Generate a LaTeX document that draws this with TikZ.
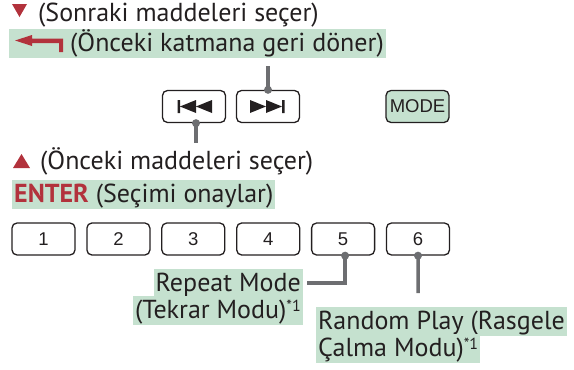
\documentclass[tikz,border=0pt]{standalone}
\usepackage{fontspec}
\setmainfont{PT Sans}
\newfontfamily\keyfont{Liberation Sans}
\definecolor{ink}{RGB}{35,31,32}
\definecolor{hlgreen}{RGB}{197,225,207}
\definecolor{keyred}{RGB}{178,50,60}
\definecolor{leadgray}{RGB}{109,110,113}
\newcommand{\fnmark}{\raisebox{7pt}{\fontsize{16}{16}\selectfont *1}}
\begin{document}
\begin{tikzpicture}[x=1pt, y=-1pt,
  every node/.style={font=\fontsize{26}{27}\selectfont, text=ink, inner sep=0pt},
  hl/.style={fill=hlgreen, text height=21pt, text depth=5pt, inner xsep=2pt, inner ysep=1.5pt},
  key/.style={draw=ink, line width=1.3pt, rounded corners=5pt, minimum width=63pt, minimum height=32pt, font=\keyfont\fontsize{18.5}{18.5}\selectfont},
  lead/.style={draw=leadgray, line width=3.5pt},
  pin/.style={circle, fill=leadgray, inner sep=0pt, minimum size=8pt}]
  \useasboundingbox (0,0) rectangle (574,370);
  % menu lines
  \fill[keyred] (12,4) -- (27,4) -- (19.5,17) -- cycle;
  \node (down) [anchor=base west] at (38,21) {(Sonraki maddeleri seçer)};
  \node (back) [hl, anchor=base west] at (9,51.7) {\hspace*{59pt}(Önceki katmana geri döner)};
  \fill[keyred] (15,40.5) -- (32,35) -- (32,38.5) -- (63,38.5) -- (63,52) -- (59,52) -- (59,43) -- (32,43) -- (32,46) -- cycle;
  \fill[keyred] (13,168) -- (30,168) -- (21.5,154) -- cycle;
  \node (up) [anchor=base west] at (40,169) {(Önceki maddeleri seçer)};
  \node (enter) [hl, anchor=base west] at (12,202) {\textcolor{keyred}{\bfseries ENTER} (Seçimi onaylar)};
  % keys
  \node (prev) [key] at (194,106.5) {};
  \node (next) [key] at (268,106.5) {};
  \node (mode) [key, fill=hlgreen] at (417.5,106.5) {MODE};
  \foreach \d in {-1,1}{
    \ifnum\d<0 \def\k{prev}\else\def\k{next}\fi
    \fill[ink, shift={(\k.center)}, xscale=\d] (-18,-6.5) -- (-2,0) -- (-18,6.5) -- cycle
      (-2,-6.5) -- (14,0) -- (-2,6.5) -- cycle (14,-6.5) rectangle (16.5,6.5);
  }
  \foreach \i in {1,...,6}
    \node (b\i) [key] at (43.5+74.9*\i-74.9,239) {\i};
  % leads
  \coordinate (n0) at (268,66);
  \coordinate (p0) at (196,143);
  \draw[lead] (next.north) -- (n0);
  \node[pin] at (next.north) {};
  \draw[lead] ([xshift=2pt]prev.south) -- (p0);
  \node[pin] at ([xshift=2pt]prev.south) {};
  % labels
  \node (rep1) [hl, anchor=base east] at (303,291) {Repeat Mode};
  \node (rep2) [hl, anchor=base east] at (303,318) {(Tekrar Modu)\fnmark};
  \node (rnd1) [hl, anchor=base west] at (316,329) {Random Play (Rasgele};
  \node (rnd2) [hl, anchor=base west] at (316,356) {Çalma Modu)\fnmark};
  \coordinate (r6) at (418,293);
  \draw[lead] ([xshift=2pt]b5.south) |- ([xshift=4pt]rep1.east);
  \node[pin] at ([xshift=2pt]b5.south) {};
  \draw[lead] (b6.south) -- (r6);
  \node[pin] at (b6.south) {};
\end{tikzpicture}
\end{document}
